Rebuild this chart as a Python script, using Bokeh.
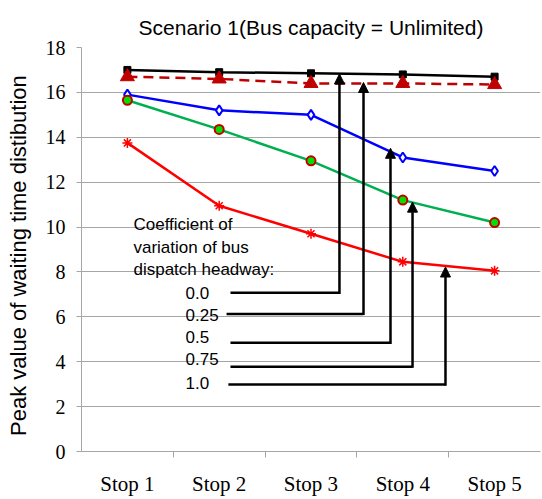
from bokeh.plotting import figure
from bokeh.models import Range1d, FixedTicker, Arrow, NormalHead
from bokeh.core.properties import value
from bokeh.embed import file_html
from bokeh.resources import INLINE

# ---- data ----
stops = ["Stop 1", "Stop 2", "Stop 3", "Stop 4", "Stop 5"]
cv_labels = ["0.0", "0.25", "0.5", "0.75", "1.0"]
cv_00 = [17.0, 16.9, 16.85, 16.8, 16.7]
cv_025 = [16.7, 16.6, 16.4, 16.4, 16.35]
cv_05 = [15.9, 15.2, 15.0, 13.1, 12.5]
cv_075 = [15.65, 14.35, 12.95, 11.2, 10.2]
cv_10 = [13.75, 10.95, 9.7, 8.45, 8.05]
y_ticks = [0, 2, 4, 6, 8, 10, 12, 14, 16, 18]

title_text = "Scenario 1(Bus capacity = Unlimited)"
y_title = "Peak  value of waiting  time distibution"
legend_heading = ["Coefficient  of", "variation of bus", "dispatch  headway:"]

xs = [i + 1 for i in range(len(stops))]

p = figure(width=541, height=498, output_backend="svg", toolbar_location=None,
           x_range=Range1d(0.5, 5.5), y_range=Range1d(0, 18),
           min_border_left=81, min_border_right=1, min_border_top=47, min_border_bottom=46)
p.outline_line_color = None
p.background_fill_color = "white"
p.border_fill_color = "white"

p.title.text = title_text
p.title.align = "center"
p.title.text_font = "Liberation Sans"
p.title.text_font_style = "normal"
p.title.text_font_size = "21px"
p.title.text_color = "#000000"
p.title.standoff = 18

gray = "#A6A6A6"
# x axis
p.xaxis.ticker = FixedTicker(ticks=xs, minor_ticks=[1.5, 2.5, 3.5, 4.5])
p.xaxis.major_label_overrides = {x: s for x, s in zip(xs, stops)}
p.xaxis.major_tick_line_color = None
p.xaxis.major_tick_out = 0
p.xaxis.major_tick_in = 0
p.xaxis.minor_tick_out = 6
p.xaxis.minor_tick_in = 0
p.xaxis.minor_tick_line_color = gray
p.xaxis.axis_line_color = gray
p.xaxis.major_label_text_font = "Liberation Serif"
p.xaxis.major_label_text_font_size = "21px"
p.xaxis.major_label_text_color = "#000000"
p.xaxis.major_label_standoff = 14
p.xgrid.grid_line_color = None

# y axis
p.yaxis.ticker = FixedTicker(ticks=y_ticks)
p.yaxis.axis_line_color = gray
p.yaxis.major_tick_line_color = gray
p.yaxis.major_tick_out = 5
p.yaxis.major_tick_in = 0
p.yaxis.minor_tick_line_color = None
p.yaxis.major_label_text_font = "Liberation Serif"
p.yaxis.major_label_text_font_size = "20px"
p.yaxis.major_label_text_color = "#000000"
p.yaxis.major_label_standoff = 11
p.yaxis.axis_label = y_title
p.yaxis.axis_label_text_font = "Liberation Sans"
p.yaxis.axis_label_text_font_style = "normal"
p.yaxis.axis_label_text_font_size = "22px"
p.yaxis.axis_label_text_color = "#000000"
p.yaxis.axis_label_standoff = 12
p.ygrid.grid_line_color = gray
p.ygrid.grid_line_width = 1

# ---- series ----
lw = 2.5
p.line(xs, cv_00, line_color="black", line_width=lw)
p.scatter(xs, cv_00, marker="square", size=7, fill_color="black", line_color="black")

p.line(xs, cv_025, line_color="#C00000", line_width=lw, line_dash="10 6")
p.scatter(xs, cv_025, marker="triangle", size=14, fill_color="#C00000", line_color="#C00000")

p.line(xs, cv_05, line_color="#0000FF", line_width=lw)
p.scatter(xs, cv_05, marker="diamond", size=10, fill_color="white", line_color="#0000FF", line_width=2)

p.line(xs, cv_075, line_color="#00B050", line_width=lw)
p.scatter(xs, cv_075, marker="circle", size=9, fill_color="#00E000", line_color="#C00000", line_width=2)

p.line(xs, cv_10, line_color="#FF0000", line_width=lw)
p.scatter(xs, cv_10, marker="asterisk", size=10, line_color="#FF0000", line_width=1.5)

# ---- annotation (legend with leader arrows) ----
heading_x = [1.066] * 3
heading_y = [10.13, 9.11, 8.09]
p.text(heading_x, heading_y, text=legend_heading, text_font=value("Liberation Sans"),
       text_font_size="17px", text_baseline="middle", text_align="left", text_color="black")

label_x = [1.633] * 5
label_y = [7.07, 6.09, 5.11, 4.13, 3.07]
p.text(label_x, label_y, text=cv_labels, text_font=value("Liberation Sans"),
       text_font_size="17px", text_baseline="middle", text_align="left", text_color="black")

lead_x0 = [2.123, 2.08, 2.123, 2.123, 2.10]
lead_x1 = [3.310, 3.572, 3.866, 4.106, 4.465]
lead_y = [7.07, 6.13, 4.84, 3.78, 2.98]
tip_y = [16.82, 16.44, 13.51, 11.11, 8.22]
p.segment(lead_x0, lead_y, lead_x1, lead_y, line_color="black", line_width=2.5)
for x1, y0, y1 in zip(lead_x1, lead_y, tip_y):
    p.add_layout(Arrow(end=NormalHead(size=10, fill_color="black", line_color="black"),
                       x_start=x1, y_start=y0 - 0.05, x_end=x1, y_end=y1,
                       line_color="black", line_width=2.5))

open("out.html", "w").write(file_html(p, INLINE))
